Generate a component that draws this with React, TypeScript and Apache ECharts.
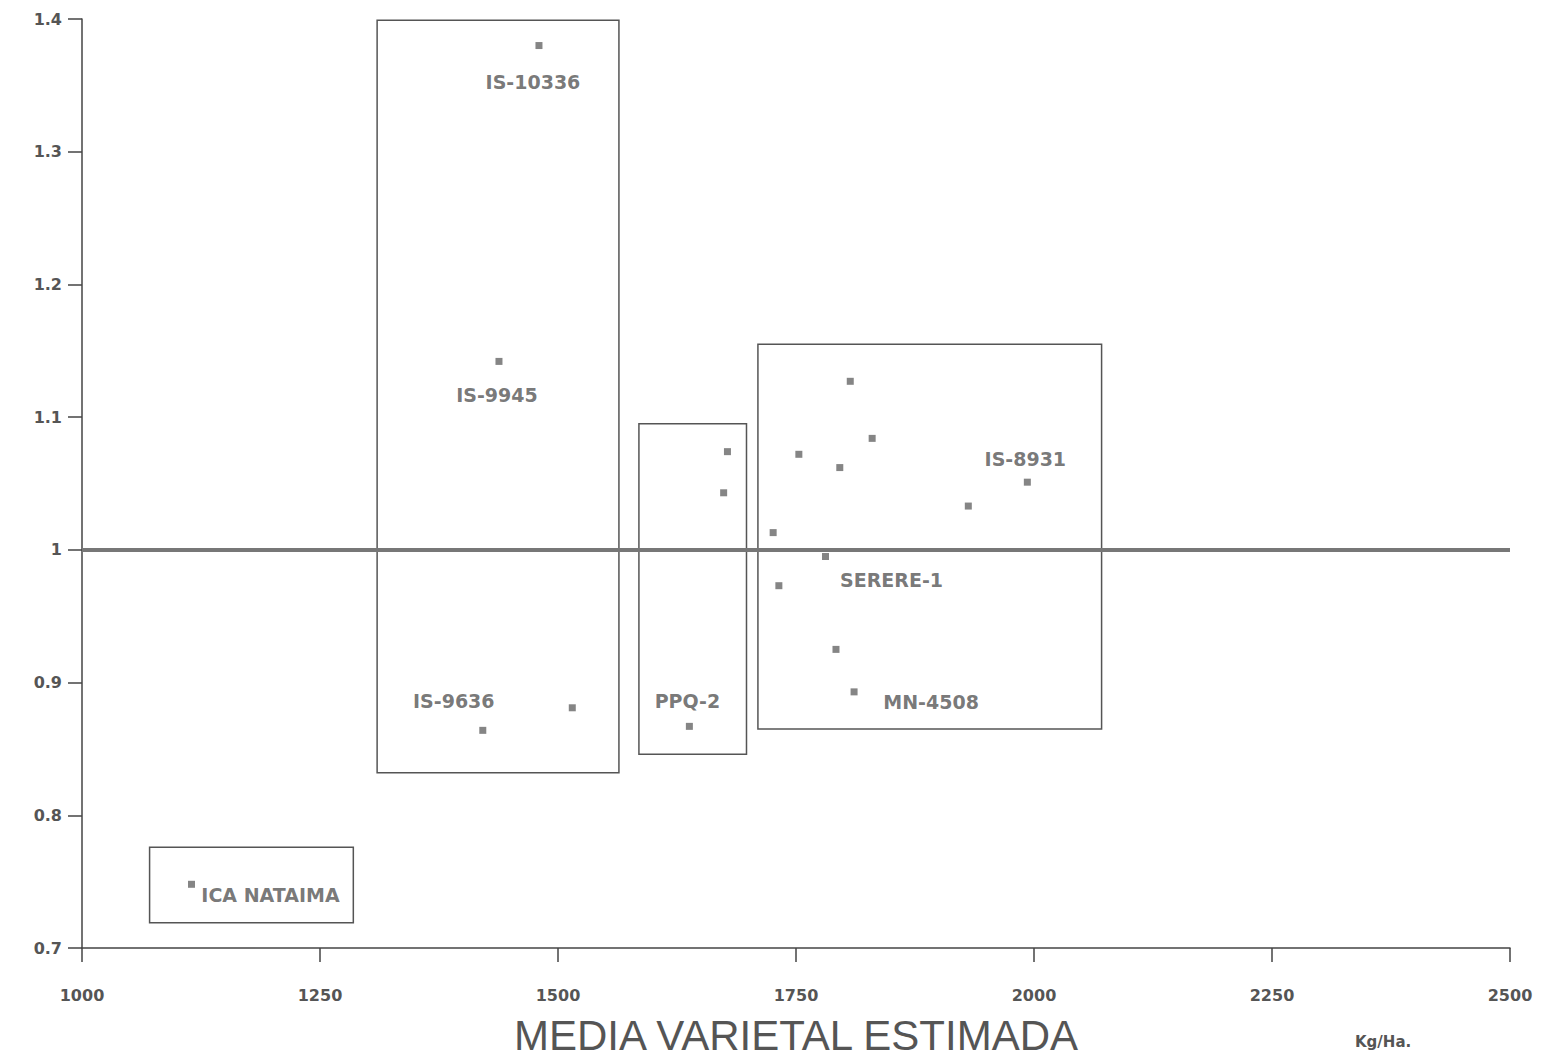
import React, { useEffect, useRef } from "react";
import * as echarts from "echarts";

// Estimated mean yield (kg/ha) vs. stability index, one point per variety
const yieldKgHa = [1480, 1438, 1421, 1515, 1638, 1678, 1674, 1726, 1753, 1732, 1807, 1796, 1830, 1781, 1792, 1811, 1931, 1993, 1115];
const stability = [1.38, 1.142, 0.864, 0.881, 0.867, 1.074, 1.043, 1.013, 1.072, 0.973, 1.127, 1.062, 1.084, 0.995, 0.925, 0.893, 1.033, 1.051, 0.748];
const varietyNames = ["IS-10336", "IS-9945", "IS-9636", "", "PPQ-2", "", "", "", "", "", "", "", "", "SERERE-1", "", "MN-4508", "", "IS-8931", "ICA NATAIMA"];

// Grouping rectangles: [xFrom, yTop, xTo, yBottom]
const groupBoxes = [
  [1310, 1.399, 1564, 0.832],
  [1585, 1.095, 1698, 0.846],
  [1710, 1.155, 2071, 0.865],
  [1071, 0.776, 1285, 0.719],
];

const referenceLevel = 1;
const xTicks = { min: 1000, max: 2500, step: 250 };
const yTicks = { min: 0.7, max: 1.4, step: 0.1 };

// Where each name sits relative to its point (px)
const labelOffsets: Record<string, [number, number]> = {
  "IS-10336": [-6, 36],
  "IS-9945": [-2, 34],
  "IS-9636": [-29, -29],
  "PPQ-2": [-2, -25],
  "SERERE-1": [66, 24],
  "MN-4508": [77, 10],
  "IS-8931": [-2, -23],
  "ICA NATAIMA": [79, 11],
};

const INK = "#555";

export default function App() {
  const ref = useRef<HTMLDivElement>(null);

  useEffect(() => {
    if (!ref.current) return;
    const chart = echarts.init(ref.current, null, { renderer: "svg" });

    const points = yieldKgHa.map((x, i) => {
      const name = varietyNames[i];
      const item: any = { value: [x, stability[i]] };
      if (name) {
        item.label = {
          show: true,
          formatter: name,
          position: "inside",
          align: "center",
          verticalAlign: "middle",
          offset: labelOffsets[name] || [0, 0],
        };
      }
      return item;
    });

    chart.setOption({
      animation: false,
      backgroundColor: "#fff",
      grid: { left: 82, right: 36, top: 19, bottom: 113, outerBoundsMode: "none", containLabel: false },
      xAxis: {
        type: "value",
        min: xTicks.min,
        max: xTicks.max,
        interval: xTicks.step,
        splitLine: { show: false },
        axisLine: { lineStyle: { color: "#444", width: 1.5 } },
        axisTick: { length: 14, lineStyle: { color: "#444", width: 1.5 } },
        axisLabel: {
          margin: 39,
          color: INK,
          fontFamily: "DejaVu Sans",
          fontWeight: "bold",
          fontSize: 16,
          formatter: (v: number) => String(v),
        },
        name: "MEDIA VARIETAL ESTIMADA",
        nameLocation: "middle",
        nameGap: 66,
        nameTextStyle: {
          color: INK,
          fontFamily: "Liberation Sans",
          fontSize: 42,
        },
      },
      yAxis: {
        type: "value",
        min: yTicks.min,
        max: yTicks.max,
        interval: yTicks.step,
        splitLine: { show: false },
        axisLine: { show: true, lineStyle: { color: "#444", width: 1.5 } },
        axisTick: { show: true, length: 14, lineStyle: { color: "#444", width: 1.5 } },
        axisLabel: {
          margin: 20,
          color: INK,
          fontFamily: "DejaVu Sans",
          fontWeight: "bold",
          fontSize: 16,
          formatter: (v: number) => String(Math.round(v * 10) / 10),
        },
      },
      graphic: [
        {
          type: "text",
          left: 1355,
          top: 1034,
          style: {
            text: "Kg/Ha.",
            fill: INK,
            font: "bold 15px 'DejaVu Sans'",
          },
        },
      ],
      series: [
        {
          type: "scatter",
          symbol: "rect",
          symbolSize: 7,
          itemStyle: { color: "#666" },
          label: {
            color: INK,
            fontFamily: "DejaVu Sans",
            fontWeight: "bold",
            fontSize: 19,
          },
          data: points,
          markLine: {
            silent: true,
            symbol: "none",
            label: { show: false },
            lineStyle: { color: "#777", width: 4, type: "solid" },
            data: [{ yAxis: referenceLevel }],
          },
          markArea: {
            silent: true,
            itemStyle: { color: "rgba(0,0,0,0)", borderColor: "#555", borderWidth: 1.5 },
            data: groupBoxes.map((b) => [
              { coord: [b[0], b[1]] },
              { coord: [b[2], b[3]] },
            ]),
          },
        },
      ],
    });

    return () => chart.dispose();
  }, []);

  return (
    <div
      ref={ref}
      style={{ position: "absolute", left: 0, top: 0, width: 1546, height: 1061 }}
    />
  );
}
